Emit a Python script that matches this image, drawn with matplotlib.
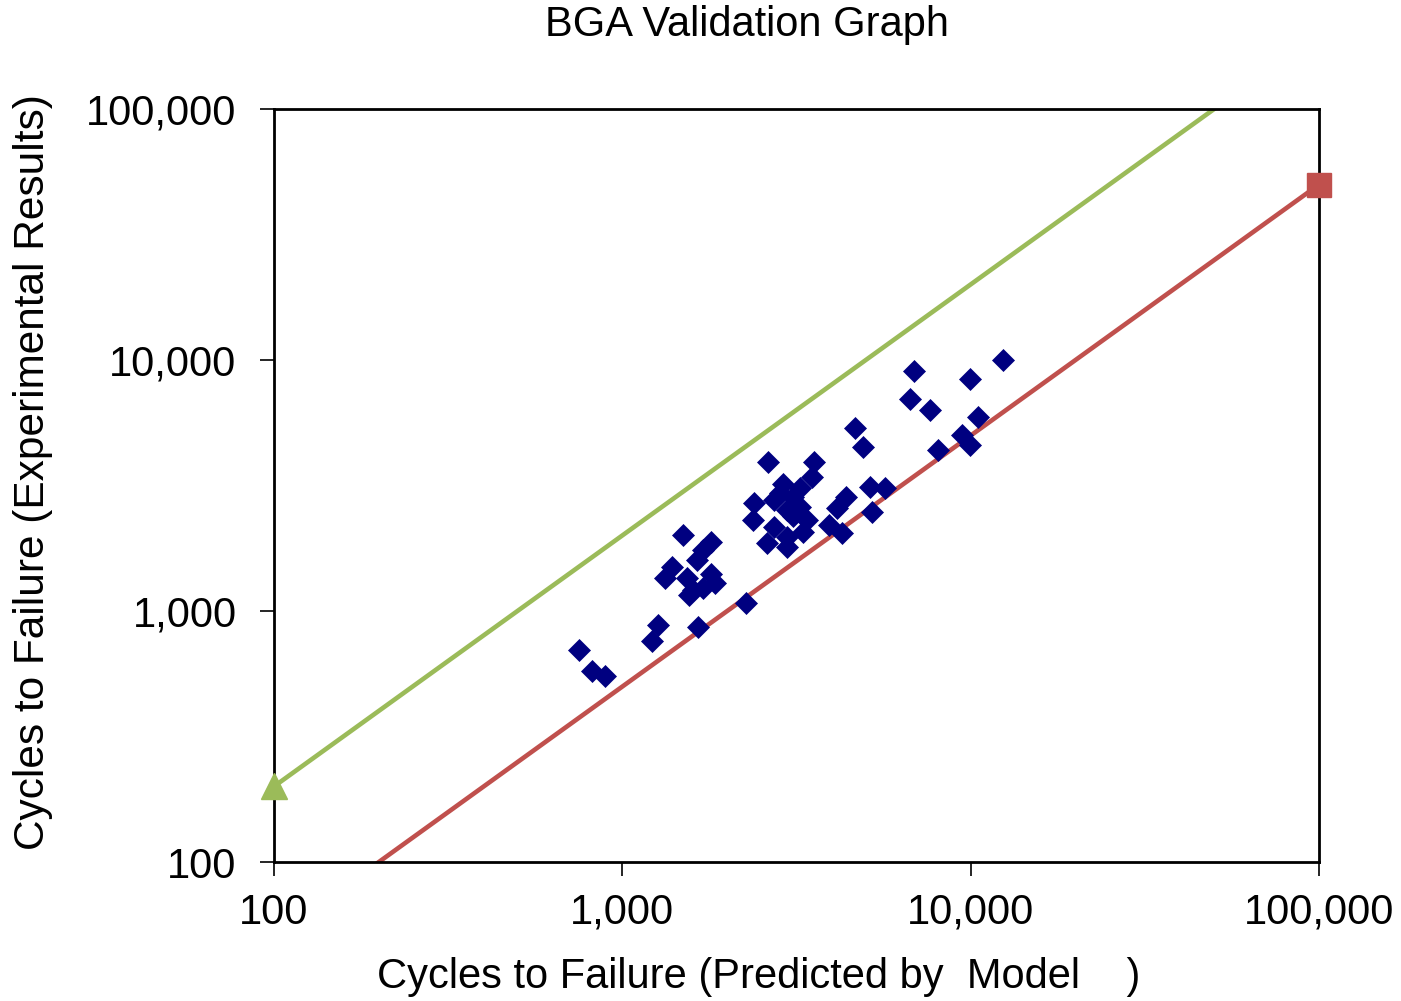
import numpy as np
import matplotlib
matplotlib.use("Agg")
import matplotlib.pyplot as plt
from matplotlib.ticker import FixedLocator, FuncFormatter, NullLocator

plt.rcParams['font.family'] = ['Liberation Sans', 'DejaVu Sans']

# predicted vs experimental cycles to failure
predicted = [750, 820, 890, 1220, 1270, 1650, 2260, 1490, 1800, 1710,
             1640, 1390, 1330, 1530, 1550, 1710, 1850, 1600, 1800,
             2620, 3550, 3500, 2380, 2370, 2900, 3100, 2720, 2970, 3240,
             3380, 2720, 2970, 3310, 2600, 2970, 2840, 3240, 3100,
             4120, 4400, 3910, 4270, 5140, 5680, 5200, 4660, 4920,
             6860, 6700, 7650, 9950, 12400, 10500, 9420, 9950, 8080]
experimental = [700, 575, 550, 760, 880, 865, 1080, 2000, 1890, 1750,
                1600, 1500, 1350, 1350, 1160, 1230, 1290, 1210, 1410,
                3940, 3940, 3430, 2690, 2310, 3220, 2850, 2770, 2520, 2600,
                2310, 2170, 1980, 2070, 1860, 1800, 2940, 3080, 2380,
                2570, 2850, 2200, 2040, 3130, 3080, 2490, 5350, 4520,
                9060, 6970, 6320, 8380, 10000, 5940, 5020, 4580, 4370]

# factor-of-two bounds
bound_x = [100, 100000]
upper_y = [200, 200000]
lower_y = [50, 50000]

ticks = [100, 1000, 10000, 100000]

fig = plt.figure(figsize=(14.01, 10.01), dpi=100)
ax = fig.add_axes([274/1401, 1-862/1001, (1319-274)/1401, (862-109)/1001])

ax.plot(bound_x, upper_y, color='#9BBB59', lw=3.3, zorder=2)
ax.plot(bound_x, lower_y, color='#C0504D', lw=3.3, zorder=2)
ax.plot(bound_x[0], upper_y[0], marker='^', color='#9BBB59', ms=19,
        clip_on=False, zorder=5)
ax.plot(bound_x[1], lower_y[1], marker='s', color='#C0504D', ms=17.5,
        clip_on=False, zorder=5)

ax.plot(predicted, experimental, ls='none', marker='D', ms=11,
        color='#000080', mec='#000080', mew=0.5, zorder=3)

ax.set_xscale('log')
ax.set_yscale('log')
ax.set_xlim(100, 100000)
ax.set_ylim(100, 100000)

fmt = FuncFormatter(lambda v, p: '{:,.0f}'.format(v))
for axis in (ax.xaxis, ax.yaxis):
    axis.set_major_locator(FixedLocator(ticks))
    axis.set_minor_locator(NullLocator())
    axis.set_major_formatter(fmt)

ax.tick_params(axis='both', which='major', direction='out', length=10,
               width=1.2, labelsize=30, colors='black')
ax.tick_params(axis='y', pad=17)
ax.tick_params(axis='x', pad=12)
for s in ax.spines.values():
    s.set_linewidth(2)
    s.set_color('black')

fig.text(747/1401, 1-25/1001, 'BGA Validation Graph', ha='center',
         va='center', fontsize=30)
fig.text(759/1401, 1-977/1001, 'Cycles to Failure (Predicted by  Model    )',
         ha='center', va='center', fontsize=30)
fig.text(33/1401, 1-472/1001, 'Cycles to Failure (Experimental Results)',
         ha='center', va='center', rotation=90, fontsize=30.5)

fig.savefig('out.png', dpi=100)
